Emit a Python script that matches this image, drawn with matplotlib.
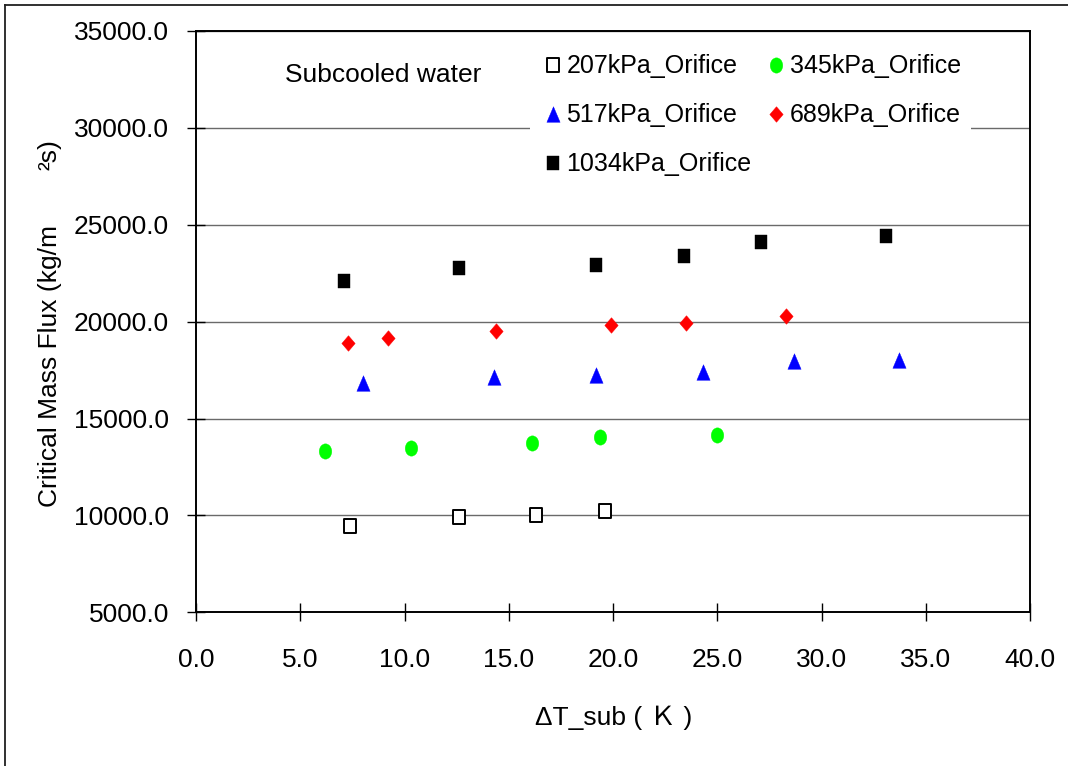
import numpy as np
import matplotlib
matplotlib.use("Agg")
import matplotlib.pyplot as plt
from matplotlib.path import Path
from matplotlib.lines import Line2D
from matplotlib.ticker import FormatStrFormatter, MultipleLocator

# ---- data ----
x_207 = [7.4, 12.6, 16.3, 19.6]
y_207 = [9440, 9900, 10020, 10210]

x_345 = [6.2, 10.3, 16.1, 19.4, 25.0]
y_345 = [13320, 13460, 13720, 14060, 14150]

x_517 = [8.0, 14.3, 19.2, 24.3, 28.7, 33.7]
y_517 = [16820, 17160, 17250, 17420, 17970, 18020]

x_689 = [7.3, 9.2, 14.4, 19.9, 23.5, 28.3]
y_689 = [18880, 19140, 19530, 19830, 19950, 20290]

x_1034 = [7.1, 12.6, 19.2, 23.4, 27.1, 33.1]
y_1034 = [22100, 22780, 22910, 23400, 24130, 24420]

labels = ["207kPa_Orifice", "345kPa_Orifice", "517kPa_Orifice",
          "689kPa_Orifice", "1034kPa_Orifice"]

FONT = "Liberation Sans"
plt.rcParams['font.family'] = [FONT, 'DejaVu Sans']

def closed(verts):
    verts = list(verts) + [verts[0]]
    return Path(verts, closed=True)

sq = closed([(-0.84, -1), (0.84, -1), (0.84, 1), (-0.84, 1)])
tri = closed([(-0.85, -1), (0.85, -1), (0, 1)])
dia = closed([(0, 1), (0.86, 0), (0, -1), (-0.86, 0)])
uc = Path.unit_circle()
ell = Path(uc.vertices * np.array([0.82, 1.0]), uc.codes)

fig = plt.figure(figsize=(10.68, 7.66), dpi=100)
ax = fig.add_axes([196/1068, (766-612.3)/766, (1030-196)/1068, (612.3-31)/766])

ms = 10.6
h207, = ax.plot(x_207, y_207, ls='none', marker=sq, ms=ms, mfc='white', mec='black', mew=1.4)
h345, = ax.plot(x_345, y_345, ls='none', marker=ell, ms=ms + 0.4, mfc='#00FF00', mec='#00FF00', mew=0.3)
h517, = ax.plot(x_517, y_517, ls='none', marker=tri, ms=ms + 0.6, mfc='#0000FF', mec='#0000FF', mew=0.3)
h689, = ax.plot(x_689, y_689, ls='none', marker=dia, ms=ms + 0.6, mfc='#FF0000', mec='#FF0000', mew=0.3)
h1034, = ax.plot(x_1034, y_1034, ls='none', marker=sq, ms=ms, mfc='black', mec='black', mew=0.3)

ax.set_xlim(0, 40)
ax.set_ylim(5000, 35000)
ax.xaxis.set_major_locator(MultipleLocator(5))
ax.yaxis.set_major_locator(MultipleLocator(5000))
ax.xaxis.set_major_formatter(FormatStrFormatter('%.1f'))
ax.yaxis.set_major_formatter(FormatStrFormatter('%.1f'))
ax.tick_params(axis='both', direction='inout', length=13, width=1.0, colors='black',
               labelsize=19)
ax.tick_params(axis='x', pad=19)
ax.tick_params(axis='y', pad=13)
for t in ax.get_xticklabels() + ax.get_yticklabels():
    t.set_fontfamily(FONT)

ax.yaxis.grid(True, color='#6a6a6a', lw=1.0)
ax.set_axisbelow(True)
for s in ax.spines.values():
    s.set_linewidth(1.4)
    s.set_color('black')

handles = [h207, h517, h1034, h345, h689]
hl = [labels[0], labels[2], labels[4], labels[1], labels[3]]
leg = ax.legend(handles, hl, ncol=2, loc='upper left',
                bbox_to_anchor=((530-196)/834, (612.3-44.5)/581.3),
                borderaxespad=0, frameon=True, fancybox=False,
                facecolor='white', edgecolor='white', framealpha=1,
                prop={'family': FONT, 'size': 18},
                handlelength=1.0, handletextpad=0.05, columnspacing=0.5,
                labelspacing=1.0, borderpad=0.4)
leg.get_frame().set_linewidth(0)

ax.text((285-196)/834, (612.3-75)/581.3, "Subcooled water", transform=ax.transAxes,
        ha='left', va='center', fontsize=19, family=FONT)

# axis labels (as rendered in the original)
fig.text(50/1068, 1 - 366/766, "Critical Mass Flux (kg/m", rotation=90,
         ha='center', va='center', fontsize=19, family=FONT)
fig.text(50/1068, 1 - 155/766, "\u00b2s)", rotation=90,
         ha='center', va='center', fontsize=19, family=FONT)
fig.text(614/1068, 1 - 718/766, "\u0394T_sub ( \uff2b )", ha='center', va='center',
         fontsize=19, family=[FONT, 'Noto Sans CJK JP'])

# figure frame (top and left edges)
fig.add_artist(Line2D([5.5/1068, 1], [1 - 4.7/766, 1 - 4.7/766], transform=fig.transFigure,
                      color='#202020', lw=1.3))
fig.add_artist(Line2D([5.5/1068, 5.5/1068], [0, 1 - 4.7/766], transform=fig.transFigure,
                      color='#202020', lw=1.3))

fig.savefig("out.png", dpi=100, facecolor='white')
